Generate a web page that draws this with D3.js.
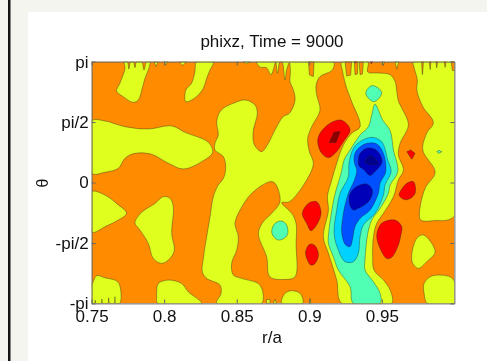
<!DOCTYPE html>
<html><head><meta charset="utf-8">
<script src="https://cdn.jsdelivr.net/npm/d3@7"></script>
<style>
html,body{margin:0;padding:0;background:#f5f5f0;overflow:hidden}
svg{display:block;filter:blur(0.35px)}
text{font-family:"Liberation Sans",Arial,sans-serif;fill:#111}
</style></head><body>
<svg id="c" width="487" height="361"></svg>
<script>
// All contour vertices are [r/a, theta/pi].
const rTicks=[0.75,0.8,0.85,0.9,0.95];
const thetaTicks=[1,0.5,0,-0.5,-1];
const thetaLabels=["pi","pi/2","0","-pi/2","-pi"];
const titleText="phixz, Time = 9000";
const xLabelText="r/a";
const yLabelText="θ";

const yellowRegions=[
 [[.7725,1],[.7730,.945],[.7695,.821],[.7672,.757],[.7718,.710],[.7787,.663],[.7822,.683],[.7849,.779],[.7868,.862],[.7895,.945],[.7902,1],[.7879,1],[.7861,.931],[.7845,1],[.7810,1],[.7799,.950],[.7787,1],[.7769,1],[.7757,.939],[.7746,1]],
 [[.7932,1],[.7944,.959],[.7960,1]],
 [[.8001,1],[.8012,.972],[.8024,1]],
 [[.8104,1],[.8127,.967],[.8155,1]],
 [[.8224,1],[.8212,.917],[.8189,.821],[.8150,.765],[.8148,.669],[.8189,.683],[.8235,.724],[.8270,.779],[.8293,.862],[.8316,.931],[.8339,1]],
 [[.8546,1],[.8569,.981],[.8592,1]],
 [[.8638,1],[.8660,.956],[.8706,.948],[.8736,.892],[.8762,.975],[.8768,1],[.8782,.903],[.8798,1],[.8812,1],[.8833,.848],[.8844,.931],[.8863,.992],[.8870,.917],[.8867,.837],[.8890,.768],[.8902,.683],[.8863,.572],[.8821,.545],[.8752,.407],[.8718,.324],[.8672,.255],[.8638,.283],[.8615,.338],[.8615,.434],[.8642,.572],[.8626,.641],[.8557,.683],[.8477,.655],[.8408,.614],[.8373,.559],[.8362,.490],[.8373,.393],[.8350,.324],[.8350,.269],[.8408,.214],[.8424,.117],[.8408,.034],[.8373,-.021],[.8339,-.117],[.8316,-.283],[.8270,-.628],[.8263,-.738],[.8293,-.793],[.8385,-.849],[.8392,-.917],[.8362,-1],[.8672,-1],[.8660,-.849],[.8534,-.793],[.8477,-.766],[.8465,-.669],[.8500,-.559],[.8511,-.448],[.8488,-.338],[.8523,-.228],[.8603,-.090],[.8729,.007],[.8764,-.007],[.8798,-.159],[.8729,-.269],[.8683,-.324],[.8649,-.421],[.8706,-.614],[.8729,-.780],[.8833,-.802],[.8902,-.780],[.8909,-.504],[.8909,-.338],[.8879,-.255],[.8810,-.167],[.8863,-.159],[.8982,.021],[.9028,.159],[.9001,.255],[.8989,.365],[.9017,.462],[.9074,.600],[.9051,.724],[.9047,.807],[.9074,.876],[.9159,.931],[.9166,1]],
 [[.75,.509],[.7592,.509],[.7730,.462],[.7891,.443],[.8052,.468],[.8143,.415],[.8304,.332],[.8334,.250],[.8258,.172],[.8132,.112],[.8029,.159],[.7914,.233],[.7799,.241],[.7730,.200],[.7684,.117],[.7592,.084],[.75,.076]],
 [[.75,-.076],[.7592,-.104],[.7672,-.173],[.7741,-.255],[.7684,-.311],[.7592,-.366],[.7518,-.413],[.75,-.407]],
 [[.7799,-.333],[.7845,-.247],[.7937,-.173],[.7994,-.117],[.8040,-.131],[.8063,-.200],[.8052,-.421],[.8070,-.559],[.8040,-.628],[.7983,-.669],[.7925,-.628],[.7891,-.504],[.7833,-.393]],
 [[.7505,-.835],[.7534,-.771],[.7592,-.788],[.7684,-.826],[.7695,-1],[.7665,-1],[.7661,-.945],[.7656,-1],[.7624,-1],[.7617,-.953],[.7613,-1],[.7576,-1],[.7571,-.964],[.7567,-1],[.7530,-1],[.7525,-.973],[.7521,-1],[.75,-1],[.75,-.835]],
 [[.7948,-.904],[.7960,-.835],[.8029,-.807],[.8120,-.835],[.8166,-.904],[.8258,-1],[.7955,-1],[.7948,-.945]],
 [[.8810,-1],[.8833,-.917],[.8879,-.895],[.8936,-.917],[.8955,-1]],
 [[.8706,-1],[.8706,-.967],[.8729,-.967],[.8729,-1]],
 [[.8752,-1],[.8764,-.967],[.8775,-1]],
 [[.9001,-1],[.9005,-.959],[.9012,-1]],
 [[.9224,1],[.9230,.917],[.9258,.779],[.9292,.669],[.9350,.462],[.9292,.407],[.9235,.310],[.9189,.159],[.9155,.021],[.9125,-.117],[.9132,-.228],[.9097,-.448],[.9132,-.586],[.9189,-.807],[.9224,-1],[.9568,-1],[.9557,-.890],[.9511,-.807],[.9446,-.724],[.9437,-.614],[.9442,-.448],[.9465,-.338],[.9511,-.255],[.9580,-.117],[.9614,.021],[.9649,.103],[.9614,.228],[.9626,.324],[.9683,.476],[.9637,.617],[.9614,.672],[.9603,.754],[.9591,.837],[.9557,.892],[.9476,.906],[.9403,.914],[.9403,1]],
 [[.9504,1],[.9511,.970],[.9518,1]],
 [[.9591,1],[.9603,.937],[.9616,1]],
 [[.9718,1],[.9724,.945],[.9745,.848],[.9741,.765],[.9782,.628],[.9855,.495],[.9809,.407],[.9782,.269],[.9867,.084],[.9798,-.048],[.9759,-.255],[.9768,-.311],[.9855,-.316],[1,-.277],[1,1]],
 [[.9706,-.600],[.9741,-.462],[.9787,-.434],[.9867,-.572],[.9809,-.655],[.9752,-.710],[.9713,-.669]],
 [[.9791,-.835],[.9844,-.774],[.9970,-.780],[1,-.821],[1,-1],[.9814,-1],[.9791,-.917]]
];
const orangeFingers=[
 [[.8994,1],[.9001,.890],[.9028,.876],[.9033,1]],
 [[.9246,1],[.9258,.881],[.9285,.887],[.9292,1]],
 [[.9311,1],[.9315,.892],[.9332,.898],[.9334,1]],
 [[.9343,1],[.9350,.892],[.9366,.898],[.9373,1]],
 [[.9773,1],[.9780,.892],[.9787,1]],
 [[.9826,1],[.9833,.934],[.9839,1]],
 [[.9872,1],[.9878,.948],[.9885,1]],
 [[.9929,1],[.9936,.953],[.9943,1]],
 [[.9977,1],[.9986,.926],[1,.926],[1,1]]
];
const redRegions=[
 [[.9058,.338],[.9074,.407],[.9143,.490],[.9217,.517],[.9269,.470],[.9281,.429],[.9235,.338],[.9178,.241],[.9132,.205],[.9086,.241]],
 [[.9672,.255],[.9699,.269],[.9729,.241],[.9706,.192]],
 [[.9619,-.104],[.9626,-.076],[.9672,-.007],[.9718,.007],[.9729,-.090],[.9683,-.139],[.9649,-.139]],
 [[.9465,-.434],[.9499,-.338],[.9591,-.311],[.9637,-.365],[.9630,-.440],[.9614,-.517],[.9568,-.619],[.9534,-.628],[.9488,-.545]],
 [[.8952,-.255],[.8994,-.173],[.9051,-.159],[.9081,-.242],[.9063,-.324],[.9012,-.399],[.8982,-.338]],
 [[.8975,-.572],[.9005,-.509],[.9040,-.523],[.9063,-.600],[.9040,-.669],[.9010,-.683],[.8987,-.642]],
 [[.9309,1],[.9318,.986],[.9327,1]],
 [[.9419,1],[.9428,.981],[.9437,1]]
];
const darkRedRegions=[
 [[.9138,.330],[.9171,.415],[.9212,.421],[.9184,.330]]
];
const aquaRegions=[
 [[.8741,-.407],[.8764,-.338],[.8810,-.319],[.8844,-.352],[.8849,-.434],[.8798,-.476],[.8764,-.462]],
 [[.9389,.743],[.9430,.801],[.9483,.774],[.9499,.738],[.9469,.683],[.9446,.669],[.9419,.683]],
 [[.9878,.255],[.9894,.266],[.9913,.255],[.9894,.241]],
 [[.9453,.647],[.9506,.517],[.9557,.429],[.9580,.269],[.9610,.090],[.9557,-.021],[.9545,-.090],[.9488,-.214],[.9430,-.311],[.9403,-.421],[.9391,-.531],[.9384,-.642],[.9384,-.724],[.9442,-.821],[.9488,-.917],[.9488,-1],[.9304,-1],[.9281,-.862],[.9200,-.724],[.9166,-.614],[.9132,-.504],[.9136,-.393],[.9173,-.117],[.9219,.076],[.9240,.186],[.9281,.269],[.9350,.393],[.9407,.462],[.9430,.559]]
];
const cyanRegions=[
 [[.9350,.338],[.9430,.374],[.9499,.338],[.9541,.186],[.9564,.090],[.9522,-.021],[.9511,-.104],[.9453,-.255],[.9373,-.352],[.9350,-.448],[.9338,-.586],[.9304,-.655],[.9246,-.655],[.9200,-.559],[.9171,-.421],[.9189,-.228],[.9212,-.090],[.9269,.048],[.9274,.159],[.9304,.283]]
];
const blueRegions=[
 [[.9311,.228],[.9338,.283],[.9396,.324],[.9465,.319],[.9511,.241],[.9527,.090],[.9488,-.007],[.9476,-.090],[.9419,-.228],[.9350,-.297],[.9315,-.366],[.9297,-.476],[.9281,-.531],[.9251,-.517],[.9224,-.421],[.9235,-.255],[.9269,-.090],[.9311,.021],[.9327,.103],[.9311,.159]]
];
const darkBlueRegions=[
 [[.9338,.186],[.9350,.241],[.9396,.283],[.9453,.274],[.9495,.214],[.9499,.159],[.9453,.090],[.9419,.057],[.9373,.109],[.9343,.136]],
 [[.9274,-.145],[.9281,-.090],[.9327,-.034],[.9396,-.012],[.9430,-.048],[.9435,-.090],[.9407,-.159],[.9338,-.214],[.9304,-.228],[.9281,-.195]]
];
const navyRegions=[
 [[.9384,.172],[.9419,.222],[.9453,.195],[.9476,.159],[.9430,.145]]
];

const layers=[
 [yellowRegions,"#dfff1e"],
 [orangeFingers,"#ff8c00"],
 [redRegions,"#ff0000"],
 [darkRedRegions,"#8a0000"],
 [aquaRegions,"#50ffb4"],
 [cyanRegions,"#00d2ff"],
 [blueRegions,"#0050ff"],
 [darkBlueRegions,"#0000b8"],
 [navyRegions,"#00008c"]
];

const svg=d3.select("#c");
svg.append("rect").attr("x",8).attr("y",0).attr("width",2.5).attr("height",361).attr("fill","#151515");
svg.append("rect").attr("x",28).attr("y",12).attr("width",459).attr("height",349).attr("fill","#fff");

const L=91.6,R=454.4,T=61.6,B=303.4;
const x=d3.scaleLinear().domain([0.75,1]).range([L,R]);
const y=d3.scaleLinear().domain([-1,1]).range([B,T]);
const sharp=d3.line().x(d=>x(d[0])).y(d=>y(d[1])).curve(d3.curveLinearClosed);
const smooth=d3.line().x(d=>x(d[0])).y(d=>y(d[1])).curve(d3.curveCatmullRomClosed.alpha(0.5));

svg.append("clipPath").attr("id","pl").append("rect")
 .attr("x",L).attr("y",T).attr("width",R-L).attr("height",B-T);
const g=svg.append("g").attr("clip-path","url(#pl)");
g.append("rect").attr("x",L).attr("y",T).attr("width",R-L).attr("height",B-T).attr("fill","#ff8c00");
layers.forEach(([regions,color])=>{
 g.append("g").selectAll("path").data(regions).join("path")
  .attr("d",d=>d.length>4?smooth(d):sharp(d)).attr("fill",color)
  .attr("stroke","#222").attr("stroke-opacity",.5).attr("stroke-width",.75).attr("stroke-linejoin","round");
});

const axisStyle=s=>{
 s.select(".domain").attr("stroke","#666").attr("stroke-width",1);
 s.selectAll(".tick line").attr("stroke","#666");
 s.selectAll(".tick text").attr("font-size",17).attr("font-family",'"Liberation Sans",Arial,sans-serif').attr("fill","#111");
};
svg.append("g").attr("transform",`translate(0,${B})`)
 .call(d3.axisBottom(x).tickValues(rTicks).tickFormat(d=>String(d)).tickSizeInner(-4).tickSizeOuter(0).tickPadding(7)).call(axisStyle);
svg.append("g").attr("transform",`translate(0,${T})`)
 .call(d3.axisTop(x).tickValues(rTicks).tickFormat("").tickSizeInner(-4).tickSizeOuter(0)).call(axisStyle);
svg.append("g").attr("transform",`translate(${L},0)`)
 .call(d3.axisLeft(y).tickValues(thetaTicks).tickFormat((d,i)=>thetaLabels[i]).tickSizeInner(-4).tickSizeOuter(0).tickPadding(3)).call(axisStyle);
svg.append("g").attr("transform",`translate(${R},0)`)
 .call(d3.axisRight(y).tickValues(thetaTicks).tickFormat("").tickSizeInner(-4).tickSizeOuter(0)).call(axisStyle);

svg.append("text").attr("x",272).attr("y",46.5).attr("text-anchor","middle").attr("font-size",17).text(titleText);
svg.append("text").attr("x",272).attr("y",343).attr("text-anchor","middle").attr("font-size",17).text(xLabelText);
svg.append("text").attr("transform","translate(47.5,183) rotate(-90)").attr("text-anchor","middle").attr("font-size",16).attr("font-family",'"DejaVu Sans",sans-serif').text(yLabelText);
</script>
</body></html>
